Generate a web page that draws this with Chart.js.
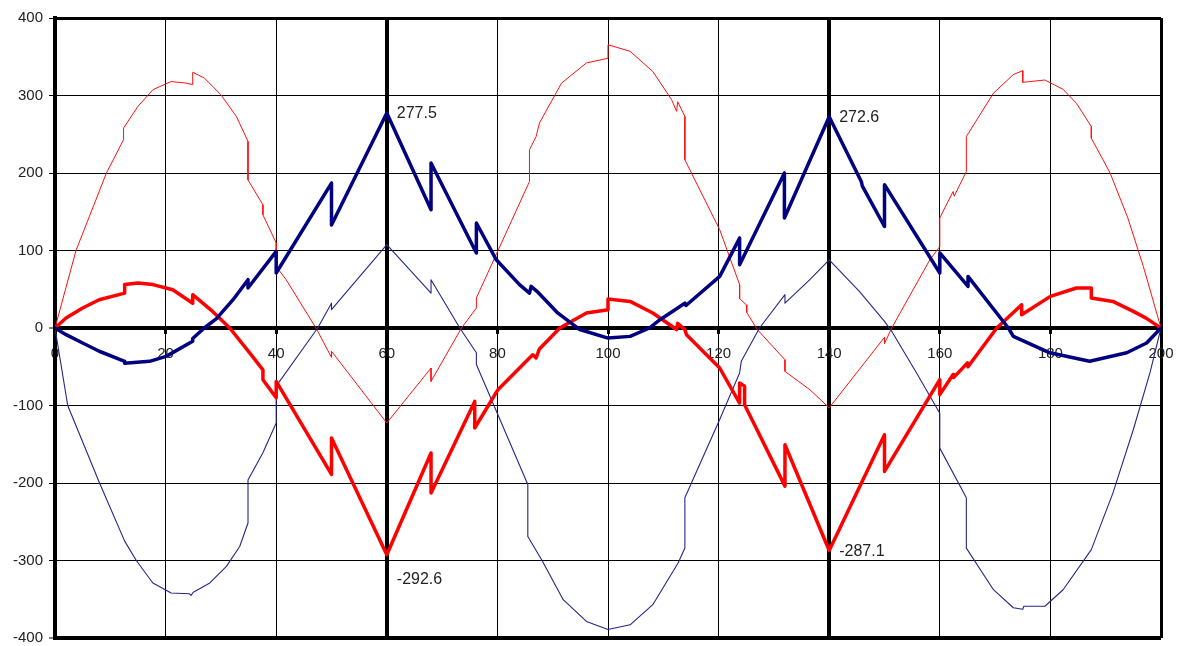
<!DOCTYPE html>
<html>
<head>
<meta charset="utf-8">
<title>Moment envelope</title>
<script src="https://cdn.jsdelivr.net/npm/chart.js@4/dist/chart.umd.min.js"></script>
<style>
  html, body { margin: 0; padding: 0; background: #fff; }
  canvas { display: block; }
</style>
</head>
<body>
<canvas id="envChart" width="1180" height="646"></canvas>
<script>
// axis ranges
const xMin = 0, xMax = 200, xStep = 20;
const yMin = -400, yMax = 400, yStep = 100;

// thick navy
const navyBoldX = [0, 2, 5, 8, 12.6, 12.6, 17.1, 20.1, 24.9, 24.9, 27, 29.2, 32.2, 34.9, 34.9, 40, 40, 50, 50, 60,
  68, 68, 76.2, 76.2, 79.8, 84, 85.8, 86.1, 87.2, 90.9, 94.9, 100, 104, 107.5, 109.4, 113.9, 114.1, 120.2, 123.8, 123.8,
  131.9, 131.9, 140, 145.8, 146, 150, 150, 160, 160, 165.1, 165.1, 172.4, 173.3, 179.9, 187.1, 193.8, 197.4, 200];
const navyBoldY = [0, -8.6, -19.4, -30, -43, -45.5, -43, -36.6, -17, -13.5, 0, 12, 36.5, 62.3, 51.6, 98.8, 71, 187, 133, 277.5,
  152.6, 213, 96.8, 135.5, 88, 56, 45, 53.7, 47, 19.4, -2, -13, -10.8, 0, 10.7, 32, 29, 66.6, 116, 81.7,
  200, 142, 272.6, 189, 183, 131, 185, 71, 96.8, 53.7, 66.6, 0, -10.8, -32, -43, -32, -19.4, 0];

// thick red
const redBoldX = [0, 2, 5, 8, 12.6, 12.6, 15, 17.7, 21.3, 24.9, 24.9, 28.5, 31.6, 35.2, 37.6, 37.6, 40, 40, 50, 50, 60,
  68, 68, 75.9, 75.9, 80.1, 85.8, 86.4, 87, 87.6, 91.3, 96.1, 100, 100, 104, 108.1, 112.4, 112.6, 113.9, 114.2, 120.2,
  123.8, 123.8, 124.7, 124.7, 132, 132, 140, 150, 150, 160, 160, 162.4, 162.5, 165, 165.1, 170.3, 174.8, 174.8,
  180, 184.7, 187.4, 187.4, 191.3, 195, 197.3, 200];
const redBoldY = [0, 12.9, 25.8, 36.5, 45, 56, 58, 56, 49.4, 32, 43, 21.4, 0, -32, -54, -66.7, -90, -69, -189, -142, -292.6,
  -161.3, -213, -94.7, -129, -79.6, -38.7, -34.5, -38.7, -27, 0, 19.4, 23.6, 37.4, 34.3, 19.4, -2, 6, -2, -8.6, -51.6,
  -96.8, -71, -75, -99, -204, -150.6, -287.1, -137.7, -185, -66.7, -86, -60, -64, -45, -50, 0, 30, 17,
  40.8, 51.6, 51.6, 38.7, 34.3, 21.4, 12.7, 0];

// thin navy
const navyThinX = [0, 2.3, 8.05, 12.6, 14.7, 17.7, 21, 24.3, 24.6, 25, 28, 31, 33.4, 34.9, 34.9, 37.6, 40, 40, 47.5,
  50, 50, 60, 68, 68, 73.2, 76.2, 76.2, 85.5, 85.5, 88, 91.9, 96.1, 100, 104, 108.1, 112.7, 113.9, 113.9, 120.2,
  123.8, 124.1, 127.4, 132, 132, 136.5, 140, 145.5, 150, 151.3, 155.8, 160, 160, 164.8, 164.8, 169.7, 173.3,
  175, 175.2, 179, 182.3, 187.4, 191.3, 195, 198, 200];
const navyThinY = [0, -100, -200, -275, -300, -329, -342, -343, -345, -341, -329, -307.6, -282, -251.6, -196, -161, -122.6, -75, 0,
  32, 23.6, 107.5, 45, 62.3, 0, -32, -47, -202, -269, -299, -350.6, -378.6, -389, -383, -357, -303, -284, -219, -118,
  -58, -43, 0, 43, 32, 62.3, 88, 47, 8.5, -4.3, -58, -110, -155, -219, -284, -337.7, -361,
  -363, -359, -359, -337.7, -286, -213, -131, -58, 0];

// thin red
const redThinX = [0, 3.8, 9.3, 12.4, 12.4, 15, 17.7, 21, 23.7, 24.9, 24.9, 27, 30, 32.8, 34.9, 34.9, 37.6, 37.6, 40, 40,
  41.8, 47.2, 50, 50, 60, 68, 68, 73.5, 76.2, 76.2, 85.8, 85.8, 87, 87.6, 91.6, 96.1, 100, 100, 104, 108.1, 111.5,
  112.4, 112.6, 113.9, 113.9, 120.2, 123.8, 123.8, 125, 125.1, 127, 132, 132, 136.5, 140, 150, 150, 151.3, 158.2,
  160, 160, 162.4, 162.6, 164.8, 164.8, 169.7, 173.3, 175, 175, 179, 182.3, 184.7, 187.4, 187.4, 190.8, 194, 196.8, 200];
const redThinY = [0, 100, 200, 243, 258, 286, 307.5, 318, 316, 314, 330, 322.6, 301, 273, 240.8, 191, 159, 146, 109.7, 79.5,
  62.3, 0, -38, -30, -122.6, -51.6, -68.9, 0, 25.8, 38.7, 189, 230, 247, 264.5, 316, 342, 348, 365.5, 357, 331, 294.6,
  279.5, 292, 273, 217, 126.8, 56, 38, 30, 20, -2, -41, -56, -79.6, -103, -12, -20, 0, 88,
  105, 142, 176, 170, 202, 247, 303, 327, 332, 317, 320, 308, 290, 260, 245, 200, 142, 79.5, 0];

// values written next to the bold curves at these spans
const calloutSpans = [60, 140];

function toPoints(xs, ys) {
  return xs.map((x, i) => ({x: x, y: ys[i]}));
}

const labelFont = '"Liberation Sans", Arial, sans-serif';
Chart.defaults.font.family = labelFont;

const peakCallouts = {
  id: 'peakCallouts',
  afterDatasetsDraw(chart) {
    const ctx = chart.ctx;
    const xs = chart.scales.x, ys = chart.scales.y;
    const series = [
      {x: navyBoldX, y: navyBoldY, dy: [1, 1]},
      {x: redBoldX, y: redBoldY, dy: [25, 1]}
    ];
    ctx.save();
    ctx.font = '16px ' + labelFont;
    ctx.fillStyle = '#222';
    ctx.textAlign = 'left';
    ctx.textBaseline = 'middle';
    series.forEach(s => {
      calloutSpans.forEach((at, k) => {
        const i = s.x.indexOf(at);
        if (i < 0) return;
        const v = s.y[i];
        ctx.fillText(v.toFixed(1), xs.getPixelForValue(at) + 10, ys.getPixelForValue(v) + s.dy[k]);
      });
    });
    ctx.restore();
  }
};

// keep the plot box fixed: axes do not push it around
function noPadding(s) {
  s.paddingLeft = 0;
  s.paddingRight = 0;
  s.paddingTop = 0;
  s.paddingBottom = 0;
}

const thickX = [0, 60, 140, 200];
const thickY = [-400, 0];

new Chart(document.getElementById('envChart'), {
  type: 'line',
  data: {
    datasets: [
      {data: toPoints(navyBoldX, navyBoldY), borderColor: '#000080', borderWidth: 3.5},
      {data: toPoints(redBoldX, redBoldY), borderColor: '#ff0000', borderWidth: 3.5},
      {data: toPoints(navyThinX, navyThinY), borderColor: '#262688', borderWidth: 1.1},
      {data: toPoints(redThinX, redThinY), borderColor: '#ff1010', borderWidth: 1}
    ]
  },
  options: {
    responsive: false,
    animation: false,
    devicePixelRatio: 1,
    elements: {
      point: {radius: 0},
      line: {tension: 0, borderCapStyle: 'round', borderJoinStyle: 'round'}
    },
    layout: {padding: {left: 0, top: 18, right: 19, bottom: 8}},
    plugins: {legend: {display: false}, tooltip: {enabled: false}},
    scales: {
      x: {
        type: 'linear',
        min: xMin,
        max: xMax,
        position: {y: 0},
        afterFit: s => { noPadding(s); s.height = 0; },
        ticks: {stepSize: xStep, color: '#222', font: {size: 15}, padding: 13, maxRotation: 0},
        grid: {
          color: '#000',
          lineWidth: c => thickX.includes(c.tick.value) ? (c.tick.value === 200 ? 3 : 4) : 1,
          tickLength: 4,
          tickWidth: 3,
          tickColor: '#000'
        },
        border: {display: true, color: '#000', width: 4}
      },
      y: {
        type: 'linear',
        min: yMin,
        max: yMax,
        afterFit: s => { noPadding(s); s.width = 55; },
        ticks: {stepSize: yStep, color: '#222', font: {size: 15}, padding: 6},
        grid: {
          color: '#000',
          lineWidth: c => thickY.includes(c.tick.value) ? 4 : (c.tick.value === 400 ? 3 : 1),
          tickLength: 6,
          tickWidth: 1,
          tickColor: '#000'
        },
        border: {display: true, color: '#000', width: 4}
      }
    }
  },
  plugins: [peakCallouts]
});
</script>
</body>
</html>
